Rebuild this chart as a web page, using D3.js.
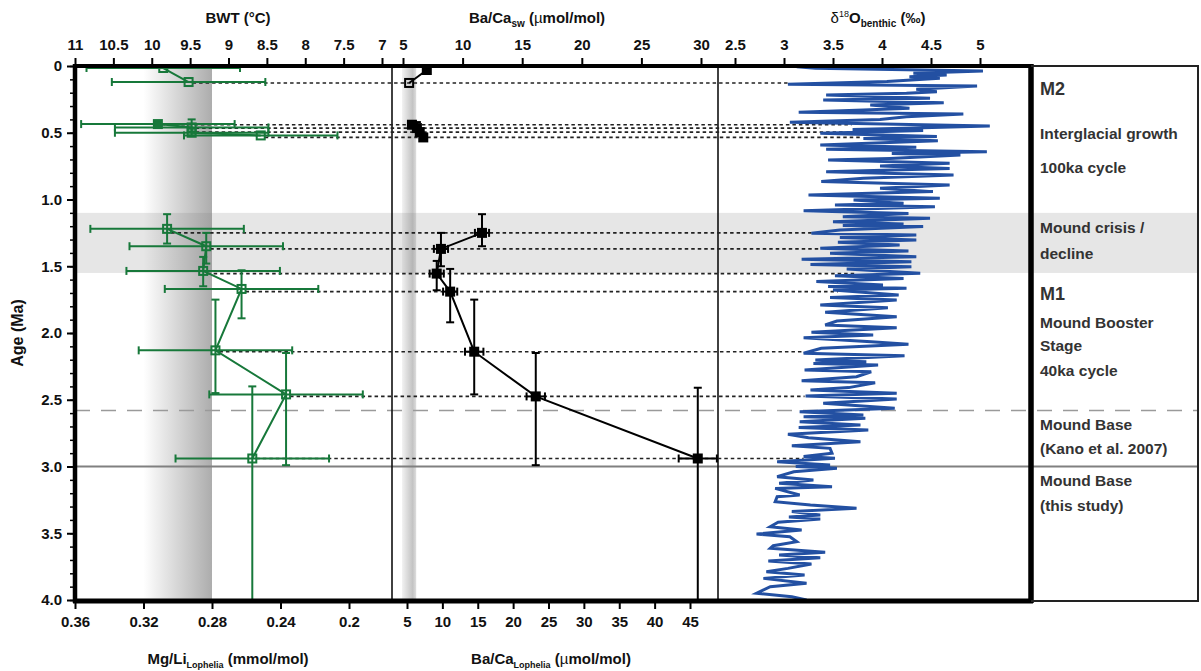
<!DOCTYPE html>
<html><head><meta charset="utf-8">
<script src="https://cdn.jsdelivr.net/npm/d3@7"></script>
<style>
body{margin:0;background:#fff}
text{font-family:"Liberation Sans",Arial,Helvetica,sans-serif}
</style>
</head><body>
<svg id="chart" width="1201" height="671"></svg>
<script>
// ---------------- DATA ----------------
// Coral samples (green = Mg/Li derived BWT, black = Ba/Ca)
const greenAge = [0.015, 0.12, 0.435, 0.46, 0.50, 0.52, 1.22, 1.35, 1.535, 1.67, 2.13, 2.46, 2.94];
const bwt      = [9.85, 9.52, 9.92, 9.48, 9.48, 8.58, 9.80, 9.29, 9.33, 8.83, 9.17, 8.25, 8.69];
const bwtErr   = [1, 1, 1, 1, 1, 1, 1, 1, 1, 1, 1, 1, 1];
const greenAgeLo = [null, null, null, 0.40, null, null, 1.11, 1.25, 1.43, 1.53, 1.75, 2.15, 2.40];
const greenAgeHi = [null, null, null, 0.52, null, null, 1.33, 1.48, 1.65, 1.89, 2.45, 2.99, 4.30];
const greenFilled = [false, false, true, false, false, false, false, false, false, false, false, false, false];
const sampleGroup = [0, 0, 1, 1, 1, 1, 2, 2, 2, 2, 2, 2, 2];

const blackAge = [0.03, 0.127, 0.44, 0.465, 0.495, 0.535, 1.25, 1.37, 1.555, 1.69, 2.14, 2.475, 2.94];
const baCaLophelia = [7.8, 5.3, 5.7, 6.4, 6.8, 7.3, 15.6, 9.8, 9.2, 11.1, 14.5, 23.2, 46.1];
const baErr = [0, 0, 0, 0, 0, 0, 1.0, 1.0, 1.0, 1.0, 1.3, 1.3, 2.7];
const blackAgeLo = [null, null, null, 0.42, null, null, 1.11, 1.25, 1.46, 1.52, 1.75, 2.15, 2.41];
const blackAgeHi = [null, null, null, 0.48, null, null, 1.35, 1.50, 1.68, 1.92, 2.46, 2.99, 4.30];
const blackFilled = [true, false, true, true, true, true, true, true, true, true, true, true, true];

// tie-line end (d18O value at the sample age), null = no tie line
const tieD18O = [null, 3.05, 3.69, 3.37, 3.62, 3.80, 3.29, 3.37, 3.74, 3.55, 3.20, 3.21, 3.20];

// Benthic d18O stack
const d18Age = [0.005,0.017,0.037,0.055,0.067,0.080,0.092,0.117,0.137,0.150,0.175,0.192,0.205,0.217,0.242,0.255,0.275,0.292,0.317,0.330,0.347,0.360,0.380,0.400,0.422,0.449,0.467,0.476,0.484,0.504,0.529,0.544,0.559,0.592,0.609,0.624,0.642,0.655,0.667,0.692,0.704,0.729,0.749,0.767,0.792,0.816,0.841,0.866,0.891,0.916,0.941,0.966,0.991,1.004,1.029,1.041,1.054,1.084,1.104,1.129,1.141,1.166,1.184,1.194,1.203,1.228,1.253,1.266,1.285,1.303,1.321,1.341,1.366,1.386,1.403,1.428,1.448,1.466,1.486,1.503,1.521,1.553,1.571,1.591,1.615,1.640,1.652,1.665,1.678,1.715,1.735,1.753,1.790,1.810,1.845,1.878,1.910,1.940,1.960,1.995,2.015,2.035,2.065,2.085,2.115,2.152,2.170,2.202,2.215,2.228,2.240,2.277,2.290,2.327,2.357,2.372,2.409,2.427,2.452,2.472,2.494,2.526,2.564,2.589,2.614,2.627,2.639,2.664,2.689,2.708,2.727,2.759,2.784,2.814,2.844,2.864,2.901,2.925,2.939,2.964,2.989,3.000,3.014,3.039,3.076,3.101,3.126,3.151,3.164,3.214,3.226,3.264,3.289,3.313,3.338,3.363,3.378,3.393,3.418,3.451,3.476,3.506,3.526,3.563,3.593,3.613,3.643,3.663,3.683,3.708,3.730,3.763,3.788,3.813,3.838,3.875,3.900,3.950,3.975,4.000];
const d18Val = [3.13,3.32,5.03,4.32,4.66,4.28,4.59,4.05,3.04,4.97,4.35,4.56,4.25,3.43,4.49,3.40,4.63,3.88,4.28,3.81,3.15,4.83,4.25,3.98,3.06,5.10,4.22,3.70,4.42,3.37,4.56,3.81,4.57,3.37,4.35,3.43,5.07,4.10,4.80,4.08,3.45,4.69,3.98,4.69,3.43,4.73,3.81,3.38,4.69,3.98,4.52,3.25,4.59,3.71,4.22,3.52,4.54,3.20,4.27,3.60,4.49,3.50,4.22,3.60,4.42,3.57,3.28,4.35,3.57,4.35,3.55,4.18,3.37,4.27,3.47,4.35,3.18,4.30,3.27,4.30,3.64,4.39,3.52,4.22,3.33,4.01,3.45,4.25,3.50,4.17,3.47,4.15,3.37,4.06,3.42,4.15,3.54,3.42,4.15,3.28,3.91,3.20,3.89,4.27,3.38,3.20,4.23,3.32,3.84,3.30,3.96,3.21,3.89,3.74,3.18,3.93,3.66,3.27,4.15,3.22,4.15,3.40,4.13,3.16,3.81,3.20,3.83,3.16,3.78,3.15,3.86,3.04,3.25,3.78,3.08,3.47,3.49,3.20,3.52,2.93,3.47,3.12,3.54,3.10,2.93,3.30,2.95,3.49,2.91,3.16,2.93,2.91,3.27,3.74,3.08,3.37,3.05,3.37,2.94,2.86,3.18,2.72,3.06,3.13,2.89,2.86,3.42,2.95,3.37,2.84,3.28,3.04,2.82,3.21,2.79,3.23,2.86,2.72,3.08,3.23];

// Axis ticks and labels
const ageTicks = [0, 0.5, 1, 1.5, 2, 2.5, 3, 3.5, 4];
const ageTickLabels = ["0", "0.5", "1.0", "1.5", "2.0", "2.5", "3.0", "3.5", "4.0"];
const bwtTicks = [11, 10.5, 10, 9.5, 9, 8.5, 8, 7.5, 7];
const baSwTicks = [5, 10, 15, 20, 25, 30];
const d18Ticks = [2.5, 3, 3.5, 4, 4.5, 5];
const mgLiTicks = [0.36, 0.32, 0.28, 0.24, 0.2];
const baLoTicks = [5, 10, 15, 20, 25, 30, 35, 40, 45];

// Zones / reference lines
const crisisZone = [1.10, 1.55];
const kanoBase = 2.58;
const thisStudyBase = 3.0;
const mgLiBand = [0.32, 0.28];
const baLoBand = [4.3, 6.3];

// Right-hand annotations
const zoneLabels = [
  {age: 0.215, text: "M2", big: true},
  {age: 0.545, text: "Interglacial growth"},
  {age: 0.805, text: "100ka cycle"},
  {age: 1.25, text: "Mound crisis /"},
  {age: 1.445, text: "decline"},
  {age: 1.75, text: "M1", big: true},
  {age: 1.965, text: "Mound Booster"},
  {age: 2.135, text: "Stage"},
  {age: 2.325, text: "40ka cycle"},
  {age: 2.725, text: "Mound Base"},
  {age: 2.905, text: "(Kano et al. 2007)"},
  {age: 3.145, text: "Mound Base"},
  {age: 3.335, text: "(this study)"}
];

// ---------------- LAYOUT ----------------
const L = 75, R = 1031, T = 66, B = 601, SEP1 = 392, SEP2 = 718, PANEL_R = 1198;
const GREEN = "#17783a", BLUE = "#2350a2";
const FONT = '"Liberation Sans",Arial,Helvetica,sans-serif';

const svg = d3.select("#chart");
svg.append("rect").attr("width",1201).attr("height",671).attr("fill","#fff");

const y = d3.scaleLinear().domain([0,4]).range([66,600]);
const xBWT = d3.scaleLinear().domain([11,7]).range([75,382]);
const xMgLi = d3.scaleLinear().domain([0.36,0.2]).range([75,349]);
const xBaSw = d3.scaleLinear().domain([5,30]).range([403,701]);
const xBaLo = d3.scaleLinear().domain([5,45]).range([407,690]);
const xD18 = d3.scaleLinear().domain([2.5,5]).range([735,980]);

const defs = svg.append("defs");
defs.append("clipPath").attr("id","plotclip").append("rect")
  .attr("x",L).attr("y",T).attr("width",R-L).attr("height",B-T);
const g1 = defs.append("linearGradient").attr("id","grad1");
g1.append("stop").attr("offset","0%").attr("stop-color","#7a7a7a").attr("stop-opacity",0);
g1.append("stop").attr("offset","100%").attr("stop-color","#7a7a7a").attr("stop-opacity",0.62);
const g2 = defs.append("linearGradient").attr("id","grad2");
g2.append("stop").attr("offset","0%").attr("stop-color","#7a7a7a").attr("stop-opacity",0.1);
g2.append("stop").attr("offset","75%").attr("stop-color","#7a7a7a").attr("stop-opacity",0.45);
g2.append("stop").attr("offset","100%").attr("stop-color","#7a7a7a").attr("stop-opacity",0.25);

// crisis band
svg.append("rect").attr("x",L).attr("y",y(crisisZone[0]))
  .attr("width",PANEL_R-L).attr("height",y(crisisZone[1])-y(crisisZone[0]))
  .attr("fill","#e6e6e6");

// gradient bands
svg.append("rect").attr("x",xMgLi(mgLiBand[0])).attr("y",T)
  .attr("width",xMgLi(mgLiBand[1])-xMgLi(mgLiBand[0])).attr("height",B-T)
  .attr("fill","url(#grad1)");
svg.append("rect").attr("x",xBaLo(baLoBand[0])).attr("y",T)
  .attr("width",xBaLo(baLoBand[1])-xBaLo(baLoBand[0])).attr("height",B-T)
  .attr("fill","url(#grad2)");

// reference lines
svg.append("line").attr("x1",L).attr("x2",PANEL_R).attr("y1",y(kanoBase)).attr("y2",y(kanoBase))
  .attr("stroke","#9a9a9a").attr("stroke-width",1.6).attr("stroke-dasharray","15,11");
svg.append("line").attr("x1",L).attr("x2",PANEL_R).attr("y1",y(thisStudyBase)).attr("y2",y(thisStudyBase))
  .attr("stroke","#808080").attr("stroke-width",2.2);

// panel separators
[SEP1, SEP2].forEach(x => svg.append("line").attr("x1",x).attr("x2",x).attr("y1",T).attr("y2",B)
  .attr("stroke","#111").attr("stroke-width",1.6));

const plot = svg.append("g").attr("clip-path","url(#plotclip)");

// tie lines
const ties = d3.range(greenAge.length).filter(i => tieD18O[i] !== null);
plot.selectAll("line.tie").data(ties).join("line").attr("class","tie")
  .attr("x1", i => xBWT(bwt[i]) + 4).attr("x2", i => xD18(tieD18O[i]))
  .attr("y1", i => y(blackAge[i])).attr("y2", i => y(blackAge[i]))
  .attr("stroke","#222").attr("stroke-width",1.6).attr("stroke-dasharray","3.5,3");

// d18O curve
const d18 = d18Age.map((a,i) => ({age:a, v:d18Val[i]}));
plot.append("path").datum(d18)
  .attr("d", d3.line().x(d => xD18(d.v)).y(d => y(d.age)))
  .attr("fill","none").attr("stroke",BLUE).attr("stroke-width",3).attr("stroke-linejoin","miter");

// helper for a series
function drawSeries(color, ages, xs, xErrLo, xErrHi, ageLo, ageHi, filled, lw) {
  const g = plot.append("g");
  const groups = d3.groups(d3.range(ages.length), i => sampleGroup[i]);
  groups.forEach(([k, idx]) => {
    g.append("path").datum(idx)
      .attr("d", d3.line().x(i => xs(i)).y(i => y(ages[i])))
      .attr("fill","none").attr("stroke",color).attr("stroke-width",lw);
  });
  ages.forEach((a,i) => {
    const cy = y(a), cx = xs(i);
    if (xErrLo(i) !== null) {
      const x1 = xErrLo(i), x2 = xErrHi(i);
      g.append("line").attr("x1",x1).attr("x2",x2).attr("y1",cy).attr("y2",cy).attr("stroke",color).attr("stroke-width",lw);
      [x1,x2].forEach(x => g.append("line").attr("x1",x).attr("x2",x).attr("y1",cy-4).attr("y2",cy+4).attr("stroke",color).attr("stroke-width",lw));
    }
    if (ageLo[i] !== null) {
      const y1 = y(ageLo[i]), y2 = y(ageHi[i]);
      g.append("line").attr("x1",cx).attr("x2",cx).attr("y1",y1).attr("y2",y2).attr("stroke",color).attr("stroke-width",lw);
      [y1,y2].forEach(yy => g.append("line").attr("x1",cx-4).attr("x2",cx+4).attr("y1",yy).attr("y2",yy).attr("stroke",color).attr("stroke-width",lw));
    }
    g.append("rect").attr("x",cx-4).attr("y",cy-4).attr("width",8).attr("height",8)
      .attr("fill", filled[i] ? color : "none").attr("stroke",color).attr("stroke-width",2);
  });
}

drawSeries(GREEN, greenAge, i => xBWT(bwt[i]),
  i => xBWT(bwt[i] + bwtErr[i]), i => xBWT(bwt[i] - bwtErr[i]),
  greenAgeLo, greenAgeHi, greenFilled, 2);

drawSeries("#000", blackAge, i => xBaLo(baCaLophelia[i]),
  i => baErr[i] ? xBaLo(baCaLophelia[i] - baErr[i]) : null,
  i => xBaLo(baCaLophelia[i] + baErr[i]),
  blackAgeLo, blackAgeHi, blackFilled, 2);

// ---------------- AXES ----------------
function styleAxis(g, fs) {
  g.select(".domain").remove();
  g.selectAll(".tick line").attr("stroke","#000").attr("stroke-width",2);
  g.selectAll(".tick text").attr("font-size",fs).attr("font-weight","bold")
    .attr("fill","#111").attr("font-family",FONT);
}
const topY = 64, botY = 603;
styleAxis(svg.append("g").attr("transform",`translate(0,${topY})`)
  .call(d3.axisTop(xBWT).tickValues(bwtTicks).tickSize(6).tickPadding(8).tickFormat(d3.format("~g"))), 15);
styleAxis(svg.append("g").attr("transform",`translate(0,${topY})`)
  .call(d3.axisTop(xBaSw).tickValues(baSwTicks).tickSize(6).tickPadding(8)), 15);
styleAxis(svg.append("g").attr("transform",`translate(0,${topY})`)
  .call(d3.axisTop(xD18).tickValues(d18Ticks).tickSize(6).tickPadding(8).tickFormat(d3.format("~g"))), 15);
styleAxis(svg.append("g").attr("transform",`translate(0,${botY})`)
  .call(d3.axisBottom(xMgLi).tickValues(mgLiTicks).tickSize(6).tickPadding(7).tickFormat(d3.format("~g"))), 15);
styleAxis(svg.append("g").attr("transform",`translate(0,${botY})`)
  .call(d3.axisBottom(xBaLo).tickValues(baLoTicks).tickSize(6).tickPadding(7)), 15);
styleAxis(svg.append("g").attr("transform",`translate(${L-2},0)`)
  .call(d3.axisLeft(y).tickValues(ageTicks).tickSize(6).tickPadding(5)
    .tickFormat((d,i) => ageTickLabels[i])), 15);
const minor = svg.append("g").attr("transform",`translate(${L-2},0)`)
  .call(d3.axisLeft(y).tickValues(d3.range(0,4.001,0.1)).tickSize(3).tickFormat(""));
minor.select(".domain").remove();
minor.selectAll(".tick line").attr("stroke","#000").attr("stroke-width",1.5);

// frame
svg.append("line").attr("x1",L-2).attr("x2",R+2).attr("y1",T).attr("y2",T).attr("stroke","#000").attr("stroke-width",4);
svg.append("line").attr("x1",L-2).attr("x2",R+2).attr("y1",B).attr("y2",B).attr("stroke","#000").attr("stroke-width",5);
svg.append("line").attr("x1",L).attr("x2",L).attr("y1",T-2).attr("y2",B+2).attr("stroke","#000").attr("stroke-width",4.5);
svg.append("line").attr("x1",R).attr("x2",R).attr("y1",T-2).attr("y2",B+2).attr("stroke","#000").attr("stroke-width",5.5);
// right panel box
svg.append("path").attr("d",`M${R},${T}H${PANEL_R}V${B}H${R}`).attr("fill","none").attr("stroke","#222").attr("stroke-width",2);

// axis titles
const titleAttrs = s => s.attr("font-family",FONT).attr("font-weight","bold").attr("font-size",15).attr("fill","#111").attr("text-anchor","middle");
titleAttrs(svg.append("text").attr("x",238).attr("y",23)).text("BWT (°C)");
const t2 = titleAttrs(svg.append("text").attr("x",537).attr("y",23));
t2.append("tspan").text("Ba/Ca");
t2.append("tspan").attr("dy",4).attr("font-size",10).text("sw");
t2.append("tspan").attr("dy",-4).text(" (");
t2.append("tspan").attr("font-weight","normal").text("µ");
t2.append("tspan").text("mol/mol)");
const t3 = titleAttrs(svg.append("text").attr("x",878).attr("y",23));
t3.append("tspan").attr("font-weight","normal").text("δ");
t3.append("tspan").attr("dy",-6).attr("font-size",9).attr("font-weight","normal").text("18");
t3.append("tspan").attr("dy",6).text("O");
t3.append("tspan").attr("dy",4).attr("font-size",10).text("benthic");
t3.append("tspan").attr("dy",-4).text(" (‰)");
const t4 = titleAttrs(svg.append("text").attr("x",228).attr("y",664));
t4.append("tspan").text("Mg/Li");
t4.append("tspan").attr("dy",4).attr("font-size",9).text("Lophelia");
t4.append("tspan").attr("dy",-4).text(" (mmol/mol)");
const t5 = titleAttrs(svg.append("text").attr("x",551).attr("y",664));
t5.append("tspan").text("Ba/Ca");
t5.append("tspan").attr("dy",4).attr("font-size",9).text("Lophelia");
t5.append("tspan").attr("dy",-4).text(" (");
t5.append("tspan").attr("font-weight","normal").text("µ");
t5.append("tspan").text("mol/mol)");
titleAttrs(svg.append("text").attr("transform","translate(23,333) rotate(-90)")).attr("font-size",16).text("Age (Ma)");

// zone labels
svg.selectAll("text.zone").data(zoneLabels).join("text").attr("class","zone")
  .attr("x",1040).attr("y",d => y(d.age))
  .attr("font-family",FONT).attr("font-weight","bold")
  .attr("font-size",d => d.big ? 18 : 15.5).attr("fill","#333")
  .text(d => d.text);
</script>
</body></html>
